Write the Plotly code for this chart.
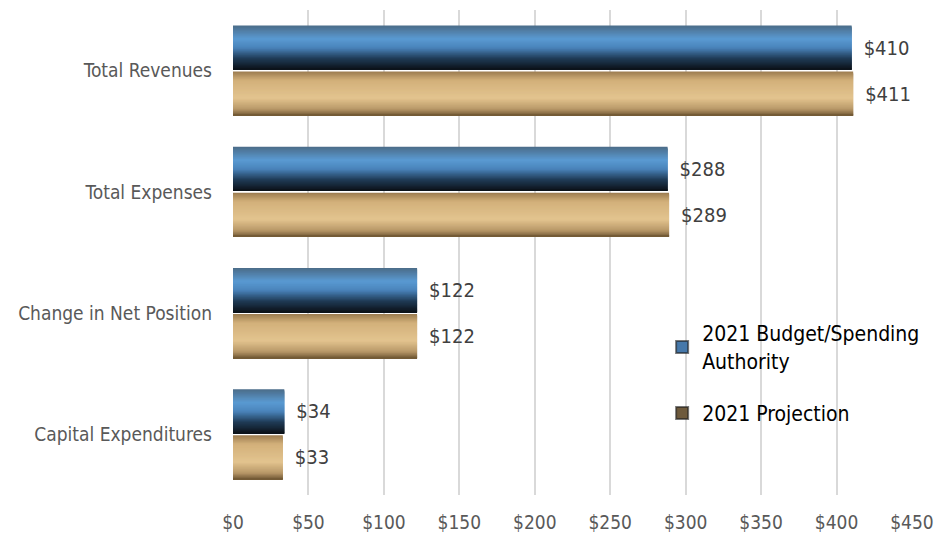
import plotly.graph_objects as go

categories = ["Total Revenues", "Total Expenses", "Change in Net Position", "Capital Expenditures"]
budget = [410, 288, 122, 34]
projection = [411, 289, 122, 33]
series_names = ["2021 Budget/Spending<br>Authority", "2021 Projection"]
tick_vals = [0, 50, 100, 150, 200, 250, 300, 350, 400, 450]
tick_text = ["$" + str(v) for v in tick_vals]

FONT = "Liberation Sans Narrow, DejaVu Sans Condensed, Open Sans, sans-serif"

blue_stops = [(0.0, (0x4b, 0x6c, 0x88)), (0.3, (0x5a, 0x9a, 0xd2)), (0.5, (0x4a, 0x84, 0xbb)),
              (0.75, (0x1f, 0x3a, 0x55)), (1.0, (0x0b, 0x11, 0x18))]
tan_stops = [(0.0, (0x9c, 0x7c, 0x50)), (0.2, (0xd2, 0xb0, 0x7a)), (0.6, (0xe3, 0xc4, 0x8f)),
             (0.85, (0xb8, 0x98, 0x68)), (1.0, (0x6e, 0x55, 0x32))]


def interp(stops, t):
    for (t0, c0), (t1, c1) in zip(stops[:-1], stops[1:]):
        if t0 <= t <= t1:
            f = (t - t0) / (t1 - t0) if t1 > t0 else 0
            c = [round(a + (b - a) * f) for a, b in zip(c0, c1)]
            return "rgb(%d,%d,%d)" % tuple(c)
    return "rgb(%d,%d,%d)" % stops[-1][1]


ypos = list(range(len(categories)))
bar_w = 0.364
gap = 0.008
N = 40
strip = bar_w / N

fig = go.Figure()
series = [(budget, blue_stops, -gap - bar_w, series_names[0], "rgb(70,120,170)"),
          (projection, tan_stops, gap, series_names[1], "rgb(110,90,60)")]

for vals, stops, base, name, legcol in series:
    for i in range(N):
        t = (i + 0.5) / N
        w = min(strip * 3.0, bar_w - i * strip)
        fig.add_trace(go.Bar(
            x=vals, y=ypos, orientation="h",
            width=w, offset=base + i * strip,
            marker=dict(color=interp(stops, t), line=dict(width=0)),
            showlegend=False, hoverinfo="skip", legendgroup=name,
        ))
    fig.add_trace(go.Bar(
        x=vals, y=ypos, orientation="h", name=name, legendgroup=name,
        width=bar_w, offset=base,
        marker=dict(color="rgba(0,0,0,0)", line=dict(width=0)),
        text=["\u2002$" + str(v) for v in vals], textposition="outside",
        textfont=dict(family=FONT, size=20, color="#404040"),
        cliponaxis=False, showlegend=False,
    ))
    fig.add_trace(go.Bar(
        x=[None], y=[None], orientation="h", name=name, legendgroup=name,
        marker=dict(color=legcol, line=dict(width=1, color="rgba(30,30,30,0.6)")),
        showlegend=True,
    ))

fig.update_layout(
    width=951, height=535,
    margin=dict(l=233, r=39, t=10, b=40, autoexpand=False),
    barmode="overlay",
    plot_bgcolor="white", paper_bgcolor="white",
    font=dict(family=FONT, color="#595959"),
    legend=dict(x=0.632, y=0.375, xanchor="left", yanchor="top",
                font=dict(family=FONT, size=21, color="#000000"),
                bgcolor="rgba(0,0,0,0)", tracegroupgap=22, itemsizing="constant"),
    xaxis=dict(range=[0, 450], tickvals=tick_vals, ticktext=tick_text,
               showgrid=True, gridcolor="#d9d9d9", gridwidth=2,
               zeroline=False, showline=False,
               tickfont=dict(family=FONT, size=19, color="#595959"),
               ticks="", ticklabelstandoff=14),
    yaxis=dict(range=[3.5, -0.5], tickvals=ypos, ticktext=categories,
               showgrid=False, zeroline=False, showline=False,
               tickfont=dict(family=FONT, size=19, color="#595959"),
               ticks="", ticklabelstandoff=20),
)

fig.write_html("out.html")
